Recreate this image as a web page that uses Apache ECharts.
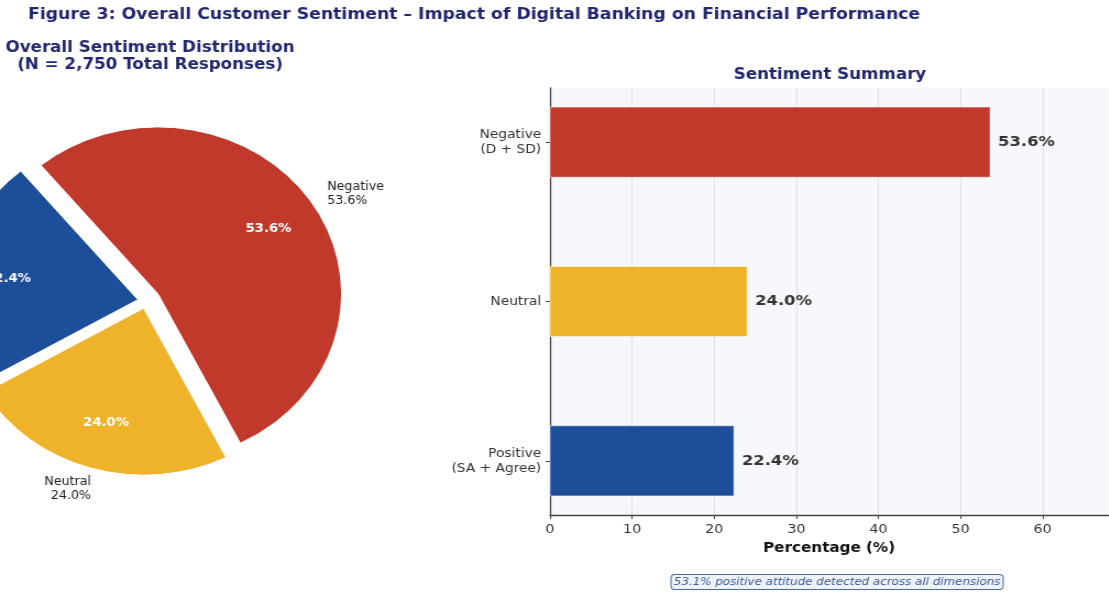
<!DOCTYPE html>
<html>
<head>
<meta charset="utf-8">
<script src="https://cdn.jsdelivr.net/npm/echarts@6/dist/echarts.min.js"></script>
<style>
  html, body { margin: 0; padding: 0; background: #ffffff; overflow: hidden; }
  /* the figure is laid out 1008 px wide and shown 10% wider, like the exported figure */
  #chart { width: 1008px; height: 596px; transform: scaleX(1.1); transform-origin: 0 0; }
</style>
</head>
<body>
<div id="chart"></div>
<script>
// Pie: overall sentiment shares (%)
const SLICE_NAMES = ['Negative', 'Neutral', 'Positive'];
const SLICE_SHARE = [53.6, 24.0, 22.4];

// Bars: sentiment summary (%)
const BAR_LABELS = ['Negative\n(D + SD)', 'Neutral', 'Positive\n(SA + Agree)'];
const BAR_VALUES = [53.6, 24.0, 22.4];

// Axis ticks
const X_TICKS = [0, 10, 20, 30, 40, 50, 60];
const Y_POSITIONS = [0, 1, 2];

const COLORS = ['#c0392b', '#eeb32b', '#1d4e9a'];
const FONT = '"DejaVu Sans", "Liberation Sans", sans-serif';
const NAVY = '#23286e';

const PIE_CENTER = [132.7, 301];
const PIE_R = 167;
const PIE_START = 129.6;

const pct = v => v.toFixed(1) + '%';

// One pie layer: draws only the slices in `shown`, pushed out by `offset`
function pieLayer(shown, offset, radius, label, labelLine, filled) {
  return {
    type: 'pie',
    center: PIE_CENTER,
    radius: radius,
    startAngle: PIE_START,
    clockwise: true,
    selectedMode: 'multiple',
    selectedOffset: offset,
    avoidLabelOverlap: false,
    silent: true,
    animation: false,
    label: label,
    labelLine: labelLine,
    data: SLICE_NAMES.map((name, i) => {
      const on = shown.indexOf(i) >= 0;
      return {
        name: name,
        value: SLICE_SHARE[i],
        selected: on,
        itemStyle: on && filled
          ? { color: COLORS[i], borderColor: '#ffffff', borderWidth: 1 }
          : { color: 'rgba(0,0,0,0)', borderWidth: 0 },
        label: { show: on }
      };
    })
  };
}

const outerLabel = {
  position: 'outside',
  distanceToLabelLine: 0,
  formatter: p => p.name + '\n' + pct(p.value),
  fontFamily: FONT,
  fontSize: 11.5,
  lineHeight: 14,
  color: '#222222'
};
const innerLabel = {
  position: 'inside',
  formatter: p => pct(p.value),
  fontFamily: FONT,
  fontSize: 12,
  fontWeight: 'bold',
  color: '#ffffff'
};

const chart = echarts.init(document.getElementById('chart'), null, { renderer: 'canvas' });

chart.setOption({
  animation: false,
  backgroundColor: '#ffffff',
  grid: {
    left: 500, right: 0.5, top: 88, bottom: 81,
    show: true, backgroundColor: '#f7f8fb', borderWidth: 0
  },
  xAxis: {
    type: 'value',
    min: 0, max: 68, interval: 10,
    name: 'Percentage (%)',
    nameLocation: 'middle',
    nameGap: 26,
    nameTextStyle: { fontFamily: FONT, fontSize: 13.8, fontWeight: 'bold', color: '#111111' },
    axisLine: { show: true, onZero: false, lineStyle: { color: '#444444', width: 1.3 } },
    axisTick: { show: true, length: 4, customValues: X_TICKS, lineStyle: { color: '#444444' } },
    axisLabel: { customValues: X_TICKS, margin: 8, fontFamily: FONT, fontSize: 13, color: '#333333' },
    splitLine: { show: true, lineStyle: { color: '#e1e2e8', width: 1 } }
  },
  yAxis: {
    type: 'value',
    inverse: true,
    min: -0.34, max: 2.34,
    axisLine: { show: true, onZero: false, lineStyle: { color: '#444444', width: 1.3 } },
    axisTick: { show: true, length: 4, customValues: Y_POSITIONS, lineStyle: { color: '#444444' } },
    axisLabel: {
      customValues: Y_POSITIONS,
      formatter: v => BAR_LABELS[Math.round(v)],
      margin: 8,
      fontFamily: FONT, fontSize: 12.5, lineHeight: 15, color: '#333333', align: 'right'
    },
    splitLine: { show: false }
  },
  graphic: [
    {
      type: 'text', x: 431, y: 14.5, silent: true,
      style: {
        text: 'Figure 3: Overall Customer Sentiment – Impact of Digital Banking on Financial Performance',
        font: 'bold 15.7px ' + FONT, fill: NAVY, align: 'center', verticalAlign: 'middle'
      }
    },
    {
      type: 'text', x: 136.4, y: 57, silent: true,
      style: {
        text: 'Overall Sentiment Distribution\n(N = 2,750 Total Responses)',
        font: 'bold 15.2px ' + FONT, lineHeight: 17, fill: NAVY, align: 'center', verticalAlign: 'middle'
      }
    },
    {
      type: 'text', x: 754.5, y: 75, silent: true,
      style: {
        text: 'Sentiment Summary',
        font: 'bold 15.2px ' + FONT, fill: NAVY, align: 'center', verticalAlign: 'middle'
      }
    },
    {
      type: 'text', x: 761, y: 582, silent: true,
      style: {
        text: '53.1% positive attitude detected across all dimensions',
        font: 'italic 10.8px ' + FONT, fill: '#3b5a8c', align: 'center', verticalAlign: 'middle',
        backgroundColor: '#eef3fb', borderColor: '#4a6a9a', borderWidth: 1, borderRadius: 3,
        padding: [2, 2, 1, 2]
      }
    }
  ],
  series: [
    // slices with their name labels
    pieLayer([0], 13, PIE_R, outerLabel, { show: false, length: PIE_R * 0.1, length2: 0 }, true),
    pieLayer([1, 2], 7.5, PIE_R, outerLabel, { show: false, length: 21.7, length2: -6 }, true),
    // percentage labels placed at 0.7 of the radius
    pieLayer([0], 13, PIE_R * 1.4, innerLabel, { show: false }, false),
    pieLayer([1, 2], 7.5, PIE_R * 1.4, innerLabel, { show: false }, false),
    // horizontal bars
    {
      type: 'custom',
      xAxisIndex: 0, yAxisIndex: 0,
      silent: true,
      data: BAR_VALUES.map((v, i) => [v, i]),
      renderItem: (params, api) => {
        const v = api.value(0);
        const i = api.value(1);
        const base = api.coord([0, i]);
        const tip = api.coord([v, i]);
        const h = Math.abs(api.size([0, 0.44])[1]);
        return {
          type: 'group',
          children: [
            {
              type: 'rect',
              shape: { x: base[0], y: base[1] - h / 2, width: tip[0] - base[0], height: h },
              style: { fill: COLORS[i], stroke: 'rgba(255,255,255,0.5)', lineWidth: 1 }
            },
            {
              type: 'text',
              x: tip[0] + 7.3, y: tip[1],
              style: {
                text: pct(v), font: 'bold 14.9px ' + FONT, fill: '#333333',
                align: 'left', verticalAlign: 'middle'
              }
            }
          ]
        };
      }
    }
  ]
});
</script>
</body>
</html>
